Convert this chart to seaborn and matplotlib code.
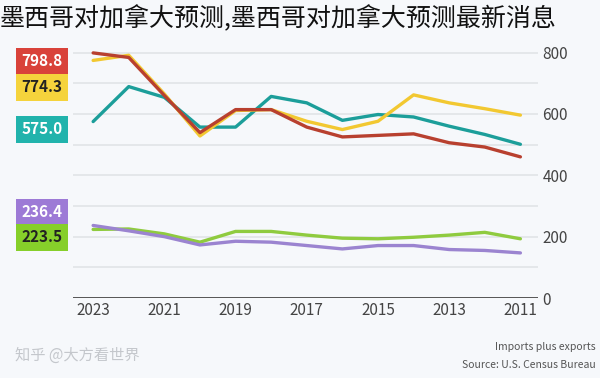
"""
美墨加贸易额折线图（镜像布局复刻）
"""

import pandas as pd
import numpy as np
import matplotlib
matplotlib.use('Agg')
import matplotlib.pyplot as plt
import seaborn as sns

# 数据
years = [2023, 2022, 2021, 2020, 2019, 2018, 2017, 2016, 2015, 2014, 2013, 2012, 2011]
red_vals = [798.8, 784, 660, 539, 614, 614, 557, 525, 530, 535, 506, 492, 460]
yellow_vals = [774.3, 791, 665, 528, 611, 614, 576, 549, 576, 662, 636, 617, 596]
teal_vals = [575.0, 689, 654, 557, 557, 657, 636, 579, 598, 590, 560, 533, 501]
purple_vals = [236.4, 219, 200, 173, 185, 182, 171, 160, 171, 171, 158, 155, 147]
green_vals = [223.5, 225, 209, 182, 217, 217, 205, 195, 193, 198, 205, 214, 193]

series_names = ['red', 'yellow', 'teal', 'purple', 'green']
line_colors = ['#b8402f', '#f2c831', '#1c9e9a', '#9b84d0', '#8fcb3f']
box_colors = ['#d9423a', '#f5d33c', '#21b3ac', '#9d7ad6', '#86cf2a']
text_colors = ['white', '#222222', 'white', 'white', '#222222']
y_ticks = [0, 200, 400, 600, 800]

title = '墨西哥对加拿大预测,墨西哥对加拿大预测最新消息'

bg = '#f6f8fb'

sns.set_theme(style='white')
plt.rcParams['font.family'] = ['Noto Sans CJK SC', 'DejaVu Sans']

all_vals = [red_vals, yellow_vals, teal_vals, purple_vals, green_vals]
df = pd.DataFrame({
    'year': years * len(series_names),
    'value': sum(all_vals, []),
    'series': np.repeat(series_names, len(years)),
})

fig = plt.figure(figsize=(6, 3.78), dpi=100)
fig.patch.set_facecolor(bg)
ax = fig.add_axes([0.122, 0.2116, 0.775, 0.69])
ax.set_facecolor(bg)

sns.lineplot(data=df, x='year', y='value', hue='series', palette=dict(zip(series_names, line_colors)),
             hue_order=series_names[::-1], linewidth=2.4, legend=False, ax=ax)

ax.set_xlim(2023.56, 2010.5)
ax.set_ylim(0, 850)
ax.set_xticks([2023, 2021, 2019, 2017, 2015, 2013, 2011])
ax.set_xticklabels(['2023', '2021', '2019', '2017', '2015', '2013', '2011'], fontsize=11, color='#444444')
ax.set_yticks(y_ticks)
ax.yaxis.tick_right()
ax.set_yticklabels([str(v) for v in y_ticks], fontsize=11, color='#444444')
ax.tick_params(axis='both', length=0, pad=3)
ax.set_xlabel('')
ax.set_ylabel('')

# 网格线
for v in range(100, 900, 100):
    ax.axhline(v, color='#dfe2e6', linewidth=1.1, zorder=0)
ax.axhline(0, color='#555555', linewidth=1.4, zorder=1)
for side in ['top', 'right', 'left', 'bottom']:
    ax.spines[side].set_visible(False)

# 左侧数值标签
label_y = [61, 87.5, 129.5, 212, 237.5]
for vals, yy, bc, tc in zip(all_vals, label_y, box_colors, text_colors):
    fig.text(42 / 600, 1 - yy / 378, f'{vals[0]:.1f}', ha='center', va='center',
             fontsize=11, fontweight='bold', color=tc,
             bbox=dict(boxstyle='square,pad=0.36', facecolor=bc, edgecolor='none'))

fig.text(0.0, 1 - 19 / 378, title, ha='left', va='center', fontsize=18,
         fontweight='light', color='#111111')

fig.text(0.993, 1 - 347 / 378, 'Imports plus exports', ha='right', va='center',
         fontsize=7.5, color='#555555')
fig.text(0.993, 1 - 365 / 378, 'Source: U.S. Census Bureau', ha='right', va='center',
         fontsize=7.5, color='#555555')
fig.text(15 / 600, 1 - 355 / 378, '知乎 @大方看世界', ha='left', va='center',
         fontsize=11, color='#c4c7cc')

plt.savefig('out.png', dpi=100, facecolor=bg)
